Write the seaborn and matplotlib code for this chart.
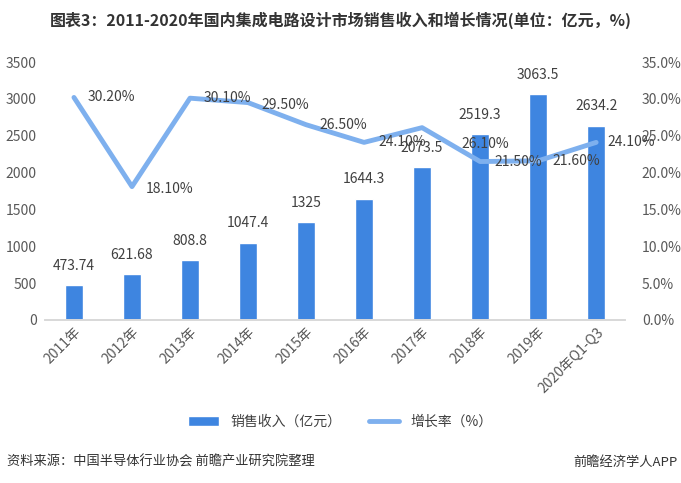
import numpy as np
import pandas as pd
import matplotlib
matplotlib.use("Agg")
import matplotlib.pyplot as plt
import seaborn as sns
from matplotlib.ticker import FuncFormatter

# data
years = ["2011年", "2012年", "2013年", "2014年", "2015年", "2016年",
         "2017年", "2018年", "2019年", "2020年Q1-Q3"]
revenue = [473.74, 621.68, 808.8, 1047.4, 1325, 1644.3, 2073.5, 2519.3, 3063.5, 2634.2]
revenue_labels = ["473.74", "621.68", "808.8", "1047.4", "1325", "1644.3",
                  "2073.5", "2519.3", "3063.5", "2634.2"]
growth = [30.2, 18.1, 30.1, 29.5, 26.5, 24.1, 26.1, 21.5, 21.6, 24.1]

sns.set_theme(style="white")
plt.rcParams["font.family"] = ["Noto Sans CJK SC", "DejaVu Sans"]
plt.rcParams["axes.unicode_minus"] = False

BAR = "#3E85E0"
LINE = "#7EB0EE"
TXT = "#404040"
TICK = "#595959"

df = pd.DataFrame({"year": years, "revenue": revenue, "growth": growth})

fig = plt.figure(figsize=(6.81, 4.83), dpi=100)
ax = fig.add_axes([0.066, 0.3375, 0.852, 0.534])
ax2 = ax.twinx()

sns.barplot(data=df, x="year", y="revenue", color=BAR, width=0.31,
            saturation=1, ax=ax, label="销售收入（亿元）")
ax.set_ylim(0, 3500)
ax.set_yticks(range(0, 3501, 500))
ax.set_xlim(-0.5, len(years) - 0.5)
ax.set_xlabel("")
ax.set_ylabel("")
for i, v in enumerate(revenue):
    ax.annotate(revenue_labels[i], (i, v), xytext=(0, 9), textcoords="offset points",
                ha="center", va="bottom", fontsize=10, color=TXT)

sns.lineplot(x=df.index, y=df["growth"], ax=ax2, color=LINE, linewidth=3.5,
             label="增长率（%）", legend=False)
ax2.set_ylim(0, 35)
ax2.set_yticks(np.arange(0, 35.1, 5))
ax2.yaxis.set_major_formatter(FuncFormatter(lambda v, p: f"{v:.1f}%"))
ax2.set_ylabel("")
# label offsets (points) to the right of each marker
offsets = [(10, 0), (10, -2), (10, 0), (10, -2), (10, 0), (10, 0),
           (28, -12), (10, 0), (10, 0), (8, 0)]
for i, v in enumerate(growth):
    ax2.annotate(f"{v:.2f}%", (i, v), xytext=offsets[i], textcoords="offset points",
                 ha="left", va="center", fontsize=10, color=TXT)

for a in (ax, ax2):
    for s in ("top", "left", "right"):
        a.spines[s].set_visible(False)
    a.spines["bottom"].set_color("#D9D9D9")
    a.tick_params(axis="both", length=0, labelsize=10, labelcolor=TICK)
ax.tick_params(axis="y", pad=6)
ax2.tick_params(axis="y", pad=12)
ax.set_xticks(range(len(years)))
ax.set_xticklabels(years, rotation=45, ha="right", rotation_mode="anchor")

fig.text(0.5, 0.958, "图表3：2011-2020年国内集成电路设计市场销售收入和增长情况(单位：亿元，%)",
         ha="center", va="center", fontsize=11.5, fontweight="bold", color="#333333")

h1, l1 = ax.get_legend_handles_labels()
h2, l2 = ax2.get_legend_handles_labels()
if ax.get_legend() is not None:
    ax.get_legend().remove()
fig.legend(h1 + h2, l1 + l2, loc="center", bbox_to_anchor=(0.5, 0.126), ncol=2,
           frameon=False, fontsize=10, handlelength=2.2, columnspacing=2.0,
           labelcolor=TXT)

fig.text(0.01, 0.043, "资料来源：中国半导体行业协会 前瞻产业研究院整理",
         ha="left", va="center", fontsize=9.5, color="#333333")
fig.text(0.995, 0.043, "前瞻经济学人APP", ha="right", va="center",
         fontsize=9.5, color="#333333")

fig.savefig("out.png", dpi=100)
